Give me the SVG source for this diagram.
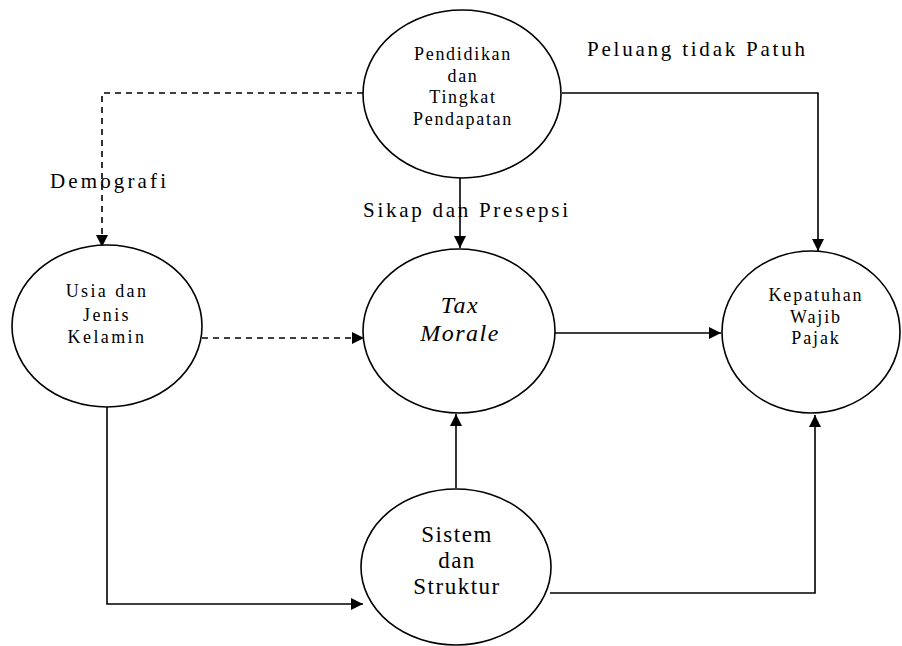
<svg xmlns="http://www.w3.org/2000/svg" width="902" height="646" viewBox="0 0 902 646">
<style>
.node{fill:#fff;stroke:#000;stroke-width:1.6}
.c{fill:none;stroke:#000;stroke-width:1.6}
.d{stroke-dasharray:6 5}
</style>
<defs>
<marker id="ah" viewBox="0 0 10 10" refX="10" refY="5" markerWidth="12" markerHeight="12" markerUnits="userSpaceOnUse" orient="auto">
<path d="M0,0 L10,5 L0,10 Z" fill="#000"/>
</marker>
</defs>
<g id="connectors">
<path class="c d" d="M363,93 H102 V247" marker-end="url(#ah)"/>
<path class="c d" d="M202,338 H364" marker-end="url(#ah)"/>
<path class="c" d="M460,178 V248" marker-end="url(#ah)"/>
<path class="c" d="M562,93 H818 V251" marker-end="url(#ah)"/>
<path class="c" d="M555,333 H721" marker-end="url(#ah)"/>
<path class="c" d="M456,488 V414" marker-end="url(#ah)"/>
<path class="c" d="M550,593 H815 V415" marker-end="url(#ah)"/>
<path class="c" d="M107,407 V604 H363" marker-end="url(#ah)"/>
</g>
<g id="labels" style="font-family:'Liberation Serif',serif" font-size="21" fill="#000">
<text x="587" y="56" textLength="218">Peluang tidak Patuh</text>
<text x="50" y="188" textLength="116">Demografi</text>
<text x="363" y="217" textLength="205">Sikap dan Presepsi</text>
</g>
<g id="pendidikan" style="font-family:'Liberation Serif',serif" font-size="18" letter-spacing="1.7" text-anchor="middle">
<ellipse class="node" cx="462" cy="94" rx="99" ry="84"/>
<text x="463" y="60">Pendidikan</text>
<text x="463" y="82">dan</text>
<text x="463" y="103">Tingkat</text>
<text x="463" y="125">Pendapatan</text>
</g>
<g id="usia" style="font-family:'Liberation Serif',serif" font-size="18" letter-spacing="2.4" text-anchor="middle">
<ellipse class="node" cx="107" cy="326" rx="95" ry="81"/>
<text x="107" y="297">Usia dan</text>
<text x="107" y="321">Jenis</text>
<text x="107" y="343">Kelamin</text>
</g>
<g id="taxmorale" style="font-family:'Liberation Serif',serif" font-size="24" font-style="italic" letter-spacing="1.5" text-anchor="middle">
<ellipse class="node" cx="459" cy="331" rx="96" ry="82"/>
<text x="460" y="313">Tax</text>
<text x="460" y="341">Morale</text>
</g>
<g id="kepatuhan" style="font-family:'Liberation Serif',serif" font-size="18" letter-spacing="1.9" text-anchor="middle">
<ellipse class="node" cx="811" cy="332" rx="89" ry="81"/>
<text x="816" y="301">Kepatuhan</text>
<text x="816" y="323">Wajib</text>
<text x="816" y="344">Pajak</text>
</g>
<g id="sistem" style="font-family:'Liberation Serif',serif" font-size="23" letter-spacing="1.5" text-anchor="middle">
<ellipse class="node" cx="456" cy="567" rx="95" ry="78"/>
<text x="457" y="542">Sistem</text>
<text x="457" y="568">dan</text>
<text x="457" y="594">Struktur</text>
</g>
</svg>
